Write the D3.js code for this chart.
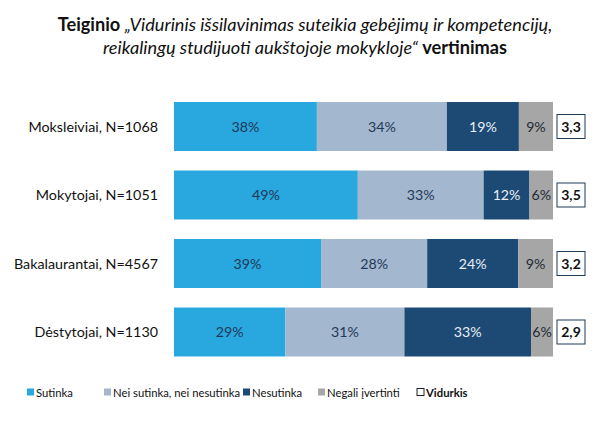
<!DOCTYPE html>
<html><head><meta charset="utf-8">
<script src="https://cdn.jsdelivr.net/npm/d3@7"></script>
<style>body{margin:0;background:#fff;} svg{display:block;font-family:Lato,"Open Sans",sans-serif;}</style>
</head><body><div id="chart"></div>
<script>
const categories = ["Moksleiviai, N=1068","Mokytojai, N=1051","Bakalaurantai, N=4567","Dėstytojai, N=1130"];
const seriesNames = ["Sutinka","Nei sutinka, nei nesutinka","Nesutinka","Negali įvertinti"];
const sutinka = [37.7, 48.5, 38.8, 29.4];
const neutral = [34.3, 33.2, 28.0, 31.4];
const nesutinka = [19.0, 12.1, 24.0, 33.4];
const negali = [9.0, 6.2, 9.2, 5.8];
const vidurkis = ["3,3","3,5","3,2","2,9"];
const colors = ["#29a7df","#a3b7cf","#1c4a74","#a6a6a6"];
const textColors = ["#1f3a56","#1f3a56","#e8eef5","#1f2a36"];

const W=612,H=429;
const svg=d3.select("#chart").append("svg").attr("width",W).attr("height",H);

const title=svg.append("text").attr("x",305).attr("text-anchor","middle").attr("font-size",18.2).attr("fill","#111");
const l1=title.append("tspan").attr("x",305).attr("y",31);
l1.append("tspan").attr("font-weight","bold").text("Teiginio ");
l1.append("tspan").attr("font-style","italic").text("„Vidurinis išsilavinimas suteikia gebėjimų ir kompetencijų,");
const l2=title.append("tspan").attr("x",305).attr("y",54);
l2.append("tspan").attr("font-style","italic").text("reikalingų studijuoti aukštojoje mokykloje“ ");
l2.append("tspan").attr("font-weight","bold").text("vertinimas");

const series=[sutinka,neutral,nesutinka,negali];
const x=d3.scaleLinear().domain([0,100]).range([174,553]);
const y=d3.scaleBand().domain(categories).range([92.25,366.25]).paddingInner(0.285).paddingOuter(0.1425);

categories.forEach((c,i)=>{
  let acc=0;
  const g=svg.append("g");
  series.forEach((s,j)=>{
    const v=s[i];
    g.append("rect").attr("x",x(acc)).attr("y",y(c)).attr("width",x(acc+v)-x(acc)).attr("height",y.bandwidth()).attr("fill",colors[j]);
    g.append("text").attr("x",(x(acc)+x(acc+v))/2).attr("y",y(c)+y.bandwidth()/2+5)
      .attr("text-anchor","middle").attr("font-size",14.2).attr("fill",textColors[j]).text(Math.round(v)+"%");
    acc+=v;
  });
  const cy=y(c)+y.bandwidth()/2;
  svg.append("rect").attr("x",557).attr("y",cy-12).attr("width",28).attr("height",24).attr("fill","#fff").attr("stroke","#1f3a56").attr("stroke-width",1);
  svg.append("text").attr("x",571).attr("y",cy+5).attr("text-anchor","middle").attr("font-size",14).attr("font-weight","bold").attr("fill","#111").text(vidurkis[i]);
  svg.append("text").attr("x",158).attr("y",cy+5).attr("text-anchor","end").attr("font-size",14.3).attr("fill","#111").text(c);
});

// legend
const legendItems=[{n:seriesNames[0],c:colors[0],x:27},{n:seriesNames[1],c:colors[1],x:104},{n:seriesNames[2],c:colors[2],x:243},{n:seriesNames[3],c:colors[3],x:318},{n:"Vidurkis",c:"none",x:417,b:true}];
legendItems.forEach(d=>{
  svg.append("rect").attr("x",d.x).attr("y",388.5).attr("width",7).attr("height",7)
    .attr("fill",d.c==="none"?"#fff":d.c).attr("stroke",d.c==="none"?"#222":"none");
  svg.append("text").attr("x",d.x+9).attr("y",397).attr("font-size",11.3).attr("fill","#111")
    .attr("font-weight",d.b?"bold":"normal").text(d.n);
});
</script></body></html>
